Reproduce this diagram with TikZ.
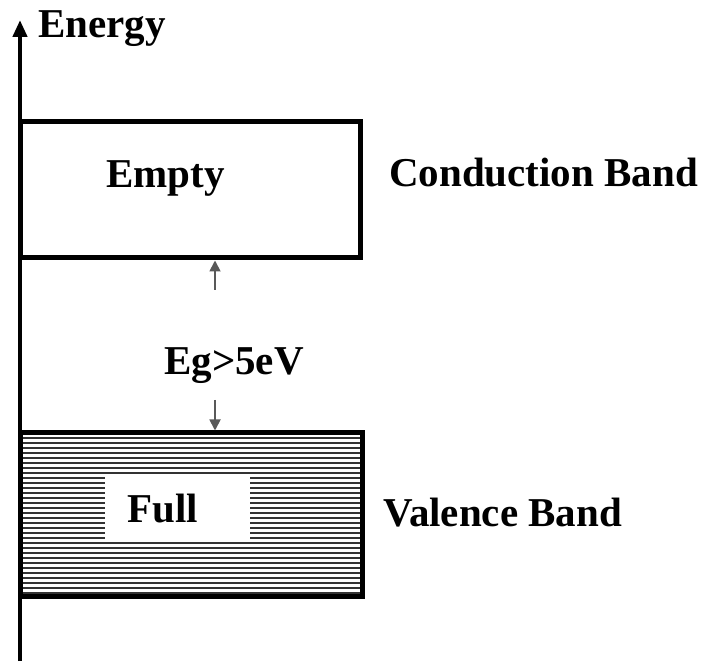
\documentclass[tikz,border=0pt]{standalone}
\usepackage{fontspec}
\setmainfont{Liberation Serif}
\usetikzlibrary{arrows.meta}
\begin{document}
\begin{tikzpicture}[x=1pt,y=1pt,
  lbl/.style={inner sep=0pt,anchor=base west,font=\fontsize{41}{49}\selectfont\bfseries},
  bandbox/.style={draw,line width=5pt,inner sep=0pt},
  gaparrow/.style={draw=black!65,line width=1.8pt,-{Triangle[length=11pt,width=11pt]}},
  stripe/.style={line width=2.2pt,draw=black!80}]
\useasboundingbox (0,0) rectangle (701,661);
% axis
\coordinate (ax0) at (20,0);
\coordinate (ax1) at (20,641);
\draw[line width=4.5pt,-{Triangle[length=17pt,width=14pt]}] (ax0) -- (ax1);
\node[lbl] (energy) at (38,623) {Energy};
% conduction band
\node[bandbox,minimum width=340pt,minimum height=136pt] (cb) at (190,471) {};
\node[lbl] (empty) at (106,473) {Empty};
\node[lbl] (cblabel) at (389,474) {Conduction Band};
% valence band
\foreach \y in {68,73,...,225} {\draw[stripe] (22,\y) -- (360,\y);}
\node[bandbox,minimum width=342pt,minimum height=164pt] (vb) at (191,146) {};
\node[fill=white,inner sep=0pt,minimum width=145pt,minimum height=63pt] (fullbox) at (177.5,153.5) {};
\node[lbl] (full) at (127,138) {Full};
\node[lbl] (vblabel) at (383,134) {Valence Band};
% gap
\node[lbl,anchor=base] (eg) at (234,286) {Eg>5eV};
\coordinate (gu) at (215,371);
\coordinate (gl) at (215,261);
\draw[gaparrow] (gu) -- (gu |- cb.south);
\draw[gaparrow] (gl) -- (gl |- vb.north);
\end{tikzpicture}
\end{document}
